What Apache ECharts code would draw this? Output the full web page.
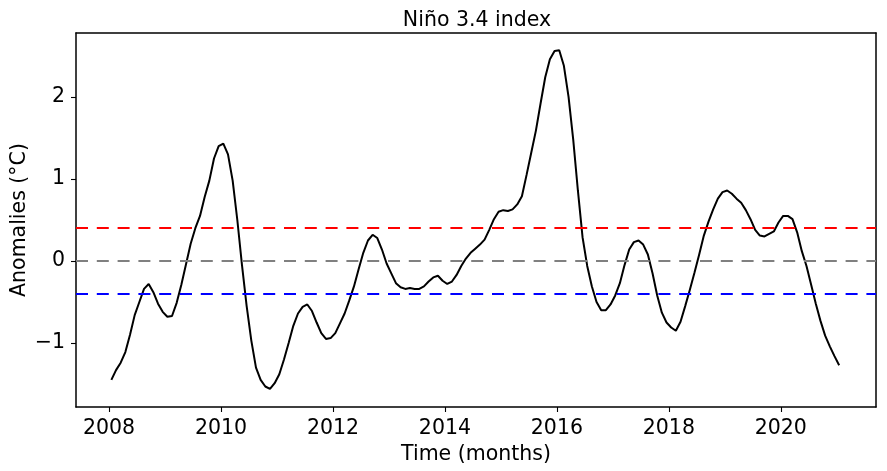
<!DOCTYPE html>
<html>
<head>
<meta charset="utf-8">
<script src="https://cdn.jsdelivr.net/npm/echarts@6/dist/echarts.min.js"></script>
<style>
html,body{margin:0;padding:0;background:#ffffff;}
#chart{width:887px;height:471px;}
</style>
</head>
<body>
<div id="chart"></div>
<script>
// Monthly Niño 3.4 anomalies, Jan 2008 .. Jan 2021
const startYear = 2008;
const anomalies = [
  -1.45, -1.33, -1.24, -1.11, -0.90, -0.66, -0.50, -0.34, -0.28, -0.38, -0.52, -0.62,
  -0.68, -0.67, -0.51, -0.29, -0.04, 0.21, 0.40, 0.55, 0.78, 0.98, 1.25, 1.40,
  1.43, 1.30, 0.98, 0.50, -0.05, -0.55, -0.97, -1.30, -1.45, -1.53, -1.56, -1.49,
  -1.38, -1.20, -1.00, -0.79, -0.64, -0.56, -0.53, -0.61, -0.75, -0.88, -0.95, -0.94,
  -0.88, -0.76, -0.64, -0.48, -0.31, -0.10, 0.10, 0.25, 0.32, 0.28, 0.14, -0.03,
  -0.15, -0.27, -0.32, -0.34, -0.33, -0.34, -0.34, -0.31, -0.25, -0.20, -0.18, -0.24,
  -0.28, -0.25, -0.17, -0.06, 0.03, 0.10, 0.15, 0.20, 0.26, 0.38, 0.51, 0.60,
  0.62, 0.61, 0.63, 0.69, 0.79, 1.05, 1.32, 1.59, 1.92, 2.24, 2.46, 2.56,
  2.57, 2.38, 2.00, 1.48, 0.86, 0.29, -0.06, -0.31, -0.50, -0.60, -0.60, -0.53,
  -0.42, -0.27, -0.05, 0.14, 0.23, 0.25, 0.20, 0.08, -0.15, -0.42, -0.63, -0.75,
  -0.81, -0.85, -0.74, -0.55, -0.35, -0.14, 0.08, 0.31, 0.48, 0.63, 0.76, 0.84,
  0.86, 0.82, 0.76, 0.71, 0.62, 0.51, 0.38, 0.31, 0.30, 0.33, 0.36, 0.47,
  0.55, 0.55, 0.51, 0.35, 0.12, -0.06, -0.29, -0.52, -0.73, -0.91, -1.04, -1.16,
  -1.27
];
const thresholds = [0.4, 0, -0.4];
const thresholdColors = ['#ff0000', '#808080', '#0000ff'];
const xTicks = [2008, 2010, 2012, 2014, 2016, 2018, 2020];
const yTicks = [-1, 0, 1, 2];

const seriesData = anomalies.map((v, i) => [startYear + (i + 0.5) / 12, v]);
const FONT = '"DejaVu Sans", sans-serif';
const FS = 20.5;
const X_MIN = 2007.41, X_MAX = 2021.70, Y_MIN = -1.78, Y_MAX = 2.78;

const frameAxis = {
  axisLine: {show: true, onZero: false, lineStyle: {color: '#000', width: 1.5}},
  axisTick: {show: false},
  axisLabel: {show: false},
  splitLine: {show: false}
};

const chart = echarts.init(document.getElementById('chart'), null, {renderer: 'canvas'});
chart.setOption({
  animation: false,
  backgroundColor: '#ffffff',
  title: {
    text: 'Niño 3.4 index',
    left: 472,
    top: 5,
    textAlign: 'center',
    textStyle: {fontFamily: FONT, fontSize: FS, fontWeight: 'normal', color: '#000'}
  },
  grid: {
    left: 76, right: 11, top: 33, bottom: 64,
    outerBoundsMode: 'none',
    containLabel: false,
    show: false
  },
  xAxis: [{
    type: 'value',
    position: 'bottom',
    min: X_MIN, max: X_MAX,
    name: 'Time (months)',
    nameLocation: 'middle',
    nameGap: 33,
    nameTextStyle: {fontFamily: FONT, fontSize: FS, color: '#000'},
    axisLine: {show: true, onZero: false, lineStyle: {color: '#000', width: 1.5}},
    axisTick: {show: true, length: 5, inside: false, customValues: xTicks, lineStyle: {color: '#000', width: 1.1}},
    axisLabel: {customValues: xTicks, fontFamily: FONT, fontSize: FS, color: '#000', margin: 11,
      formatter: v => String(v)},
    splitLine: {show: false}
  }, Object.assign({type: 'value', position: 'top', min: X_MIN, max: X_MAX}, frameAxis)],
  yAxis: [{
    type: 'value',
    position: 'left',
    min: Y_MIN, max: Y_MAX,
    name: 'Anomalies (°C)',
    nameLocation: 'middle',
    nameGap: 46,
    nameMoveOverlap: false,
    nameTextStyle: {fontFamily: FONT, fontSize: FS, color: '#000'},
    axisLine: {show: true, onZero: false, lineStyle: {color: '#000', width: 1.5}},
    axisTick: {show: true, length: 5, inside: false, customValues: yTicks, lineStyle: {color: '#000', width: 1.1}},
    axisLabel: {customValues: yTicks, fontFamily: FONT, fontSize: FS, color: '#000', margin: 11,
      formatter: v => (v < 0 ? '\u2212' + Math.abs(v) : String(v))},
    splitLine: {show: false}
  }, Object.assign({type: 'value', position: 'right', min: Y_MIN, max: Y_MAX}, frameAxis)],
  series: [{
    type: 'line',
    xAxisIndex: 0,
    yAxisIndex: 0,
    data: seriesData,
    showSymbol: false,
    smooth: false,
    lineStyle: {color: '#000', width: 2},
    itemStyle: {color: '#000'},
    z: 3,
    markLine: {
      silent: true,
      symbol: ['none', 'none'],
      label: {show: false},
      animation: false,
      data: thresholds.map((t, k) => ({
        yAxis: t,
        lineStyle: {color: thresholdColors[k], type: [12, 8.8], width: 2}
      }))
    }
  }]
});
</script>
</body>
</html>
